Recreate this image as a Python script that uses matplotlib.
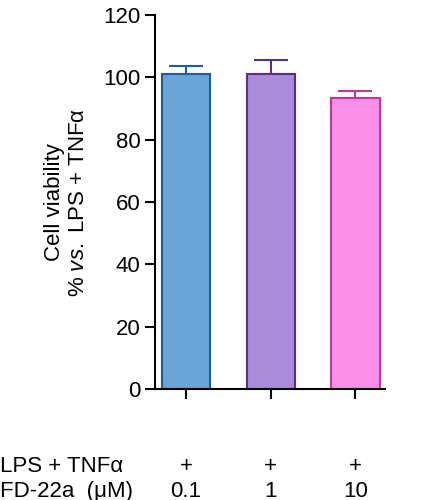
import matplotlib
matplotlib.use("Agg")
import matplotlib.pyplot as plt

plt.rcParams['font.family'] = ['Liberation Sans', 'DejaVu Sans']
plt.rcParams['mathtext.fontset'] = 'custom'
plt.rcParams['mathtext.rm'] = 'Liberation Sans'
plt.rcParams['mathtext.it'] = 'Liberation Sans:italic'

conc = ["0.1", "1", "10"]
lps = ["+", "+", "+"]
values = [101.0, 101.0, 93.5]
errors = [2.5, 4.5, 2.0]
fills = ["#6aa3d8", "#aa8bd9", "#fa8fe9"]
edges = ["#1d5c9e", "#5b2d8c", "#c2369f"]

fig = plt.figure(figsize=(4.46, 5.0), dpi=100)
ax = fig.add_axes([0.3475, 0.222, 0.516, 0.748])
x = list(range(len(values)))
for i in x:
    ax.bar(i, values[i], width=0.57, color=fills[i], edgecolor=edges[i], linewidth=1.5, zorder=2)
    ax.errorbar(i, values[i], yerr=[[0], [errors[i]]], fmt='none', ecolor=edges[i],
                elinewidth=1.5, capsize=12, capthick=1.5, zorder=1)
ax.set_xlim(-0.365, 2.35)
ax.set_ylim(0, 120)
ax.set_yticks(range(0, 121, 20))
ax.spines['top'].set_visible(False)
ax.spines['right'].set_visible(False)
for s in ('left', 'bottom'):
    ax.spines[s].set_linewidth(1.5)
ax.tick_params(axis='both', width=1.5, length=7, labelsize=16)
ax.set_xticks(x)
ax.set_xticklabels([])
ax.set_ylabel("Cell viability\n% $\\it{vs.}$ LPS + TNF\u03b1", fontsize=16, labelpad=10)

for i in x:
    ax.text(i, -25, lps[i], ha='center', va='center', fontsize=16, transform=ax.transData)
    ax.text(i, -33, conc[i], ha='center', va='center', fontsize=16, transform=ax.transData)
fig.text(0.0, 1 - 467/500, "LPS + TNF\u03b1", ha='left', va='center', fontsize=16)
fig.text(0.0, 1 - 492/500, "FD-22a  (\u03bcM)", ha='left', va='center', fontsize=16)
fig.savefig("out.png", dpi=100)
